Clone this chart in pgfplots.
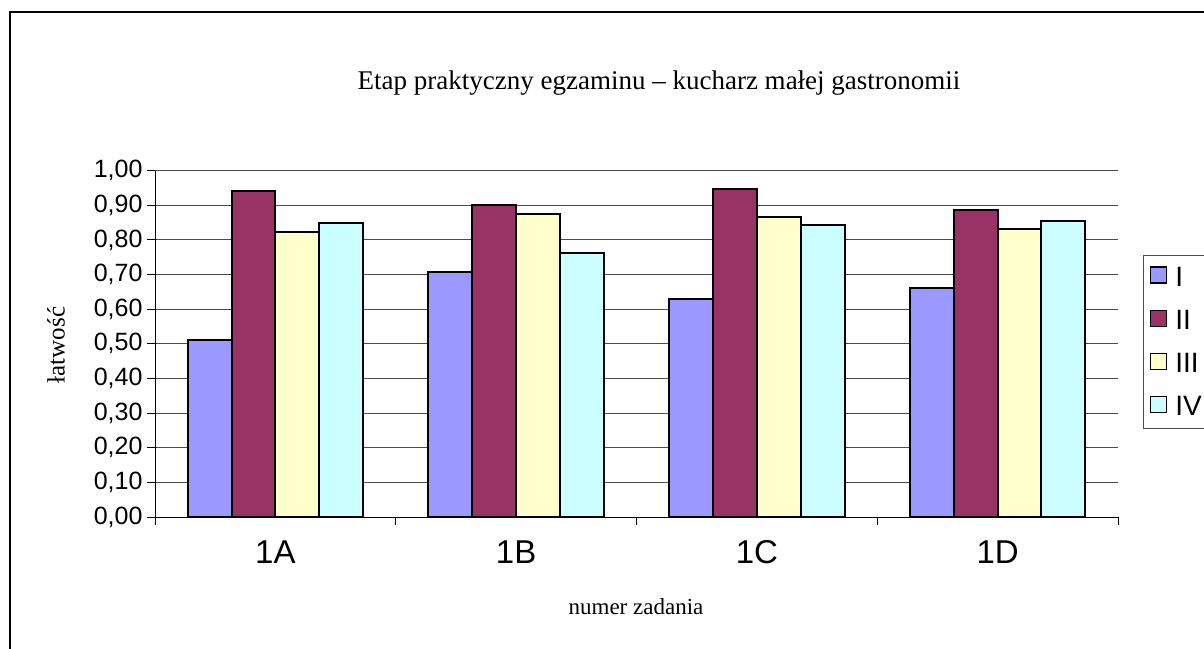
\documentclass[border=0pt]{standalone}
\usepackage{fontspec}
\setmainfont{Liberation Serif}
\newfontfamily\arial{Liberation Sans}
\usepackage{pgfplots}
\pgfplotsset{compat=1.18}
\definecolor{cI}{HTML}{9999FF}
\definecolor{cII}{HTML}{993366}
\definecolor{cIII}{HTML}{FFFFCC}
\definecolor{cIV}{HTML}{CCFFFF}
\begin{document}
\begin{tikzpicture}[x=1pt,y=1pt]
\useasboundingbox (0,0) rectangle (1204,648);
\draw[line width=1.5pt] (10,-10) -- (10,636) -- (1220,636);
\node[font=\fontsize{27}{31}\selectfont] at (659,565) {Etap praktyczny egzaminu -- kucharz małej gastronomii};
\node[font=\fontsize{25}{29}\selectfont, rotate=90] at (56,303) {łatwość};
\node[font=\fontsize{23}{27}\selectfont] at (636,41) {numer zadania};
\begin{axis}[
  at={(155pt,131pt)}, anchor=south west,
  scale only axis, width=963pt, height=346.3pt,
  xmin=0, xmax=4, ymin=0, ymax=1,
  axis x line*=bottom, axis y line*=left,
  axis line style={line width=1pt},
  ytick={0,0.1,0.2,0.3,0.4,0.5,0.6,0.7,0.8,0.9,1},
  ymajorgrids, grid style={black!70, line width=1pt},
  xtick={0,1,2,3,4}, xticklabels={},
  tick align=outside, major tick length=8pt,
  tick style={line width=1pt, black},
  extra x ticks={0.5,1.5,2.5,3.5},
  extra x tick labels={1A,1B,1C,1D},
  extra x tick style={major tick length=0pt, xticklabel style={font=\arial\fontsize{33}{33}\selectfont, text height=24pt, text depth=0pt, yshift=-19pt}},
  yticklabel style={font=\arial\fontsize{25}{25}\selectfont, xshift=-1pt},
  /pgf/number format/.cd, fixed, fixed zerofill, precision=2, use comma, assume math mode=true,
  /pgfplots/.cd,
  ybar=0pt, bar width=0.182,
  every axis plot/.append style={draw=black, line width=2pt},
  legend style={at={(1.026,0.757)}, anchor=north west, draw=black!70, line width=1pt,
    font=\arial\fontsize{28}{28}\selectfont, row sep=22pt, inner xsep=6pt, inner ysep=11pt,
    legend cell align=left, nodes={inner sep=0pt}},
  legend image code/.code={\draw[#1, line width=1.6pt] (1pt,-6pt) rectangle (17pt,10pt); \path (25pt,0pt);},
]
\addplot[fill=cI] coordinates {(0.5,0.510) (1.5,0.708) (2.5,0.629) (3.5,0.662)};
\addplot[fill=cII] coordinates {(0.5,0.940) (1.5,0.902) (2.5,0.947) (3.5,0.887)};
\addplot[fill=cIII] coordinates {(0.5,0.822) (1.5,0.875) (2.5,0.866) (3.5,0.833)};
\addplot[fill=cIV] coordinates {(0.5,0.849) (1.5,0.761) (2.5,0.842) (3.5,0.855)};
\legend{I,II,III,IV}
\end{axis}
\end{tikzpicture}
\end{document}
